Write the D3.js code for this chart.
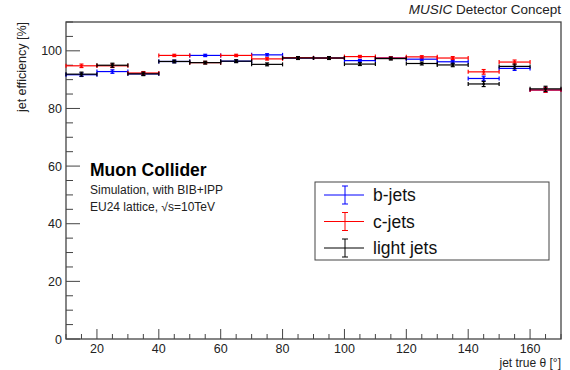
<!DOCTYPE html>
<html><head><meta charset="utf-8">
<script src="https://cdn.jsdelivr.net/npm/d3@7"></script>
<style>
body{margin:0;background:#fff;}
svg{display:block;font-family:"Liberation Sans",Arial,sans-serif;}
</style></head><body>
<svg id="c" width="570" height="370"></svg>
<script>
const binCenters = [15,25,35,45,55,65,75,85,95,105,115,125,135,145,155,165];
const binHalfWidth = 5;
const bJets = [91.7,92.8,92.0,96.3,98.4,96.4,98.6,97.5,97.5,96.6,97.5,97.1,96.2,90.4,93.9,86.4];
const cJets = [94.8,94.8,92.3,98.4,95.9,98.4,97.2,97.6,97.5,98.0,97.5,97.9,97.5,92.7,96.1,86.4];
const lightJets = [91.9,95.0,92.0,96.3,95.9,96.4,95.3,97.5,97.5,95.4,97.3,95.6,95.1,88.5,94.6,86.8];
const bErr = [0.6,0.6,0.5,0.4,0.4,0.4,0.4,0.4,0.4,0.4,0.4,0.4,0.5,0.8,0.7,0.8];
const cErr = [0.6,0.6,0.5,0.4,0.4,0.4,0.4,0.4,0.4,0.4,0.4,0.4,0.5,0.8,0.7,0.8];
const lErr = [0.7,0.7,0.6,0.5,0.5,0.5,0.5,0.5,0.5,0.5,0.5,0.5,0.6,0.9,0.8,0.9];
const xTicks = [20,40,60,80,100,120,140,160];
const yTicks = [0,20,40,60,80,100];
const seriesNames = ["b-jets","c-jets","light jets"];
const seriesColors = ["#0000ff","#ff0000","#000000"];

const svg = d3.select("#c");
const L=66, R=561, T=22, B=339;
const x = d3.scaleLinear().domain([10,170]).range([L,R]);
const y = d3.scaleLinear().domain([0,110]).range([B,T]);
const axisCol = "#444";

// frame
svg.append("rect").attr("x",L).attr("y",T).attr("width",R-L).attr("height",B-T)
  .attr("fill","none").attr("stroke",axisCol).attr("stroke-width",1.3);

// x ticks
const xMinor = d3.range(10,171,5);
const gx = svg.append("g");
xMinor.forEach(v=>{
  const major = v%20===0;
  gx.append("line").attr("x1",x(v)).attr("x2",x(v)).attr("y1",B).attr("y2",B-(major?10:5))
    .attr("stroke",axisCol).attr("stroke-width",1);
});
xTicks.forEach(v=>{
  gx.append("text").attr("x",x(v)).attr("y",B+14).attr("text-anchor","middle")
    .attr("font-size",12.5).attr("fill","#222").text(v);
});
// y ticks
const yMinor = d3.range(0,111,5);
const gy = svg.append("g");
yMinor.forEach(v=>{
  const major = v%20===0;
  gy.append("line").attr("x1",L).attr("x2",L+(major?14:7)).attr("y1",y(v)).attr("y2",y(v))
    .attr("stroke",axisCol).attr("stroke-width",1);
});
yTicks.forEach(v=>{
  gy.append("text").attr("x",L-4).attr("y",y(v)+4.5).attr("text-anchor","end")
    .attr("font-size",12.5).attr("fill","#222").text(v);
});

// axis titles
svg.append("text").attr("x",R).attr("y",367).attr("text-anchor","end").attr("font-size",12).attr("fill","#222")
  .text("jet true \u03b8 [\u00b0]");
svg.append("text").attr("transform",`translate(26,${T}) rotate(-90)`).attr("text-anchor","end")
  .attr("font-size",12.5).attr("fill","#222").text("jet efficiency [%]");

// header
const hdr = svg.append("text").attr("x",R).attr("y",14).attr("text-anchor","end").attr("font-size",13.5).attr("fill","#222");
hdr.append("tspan").attr("font-style","italic").text("MUSIC");
hdr.append("tspan").text(" Detector Concept");

// labels
svg.append("text").attr("x",90).attr("y",176).attr("font-size",17.5).attr("font-weight","bold").attr("fill","#000").text("Muon Collider");
svg.append("text").attr("x",90).attr("y",194).attr("font-size",12).attr("fill","#222").text("Simulation, with BIB+IPP");
svg.append("text").attr("x",90).attr("y",211).attr("font-size",12).attr("fill","#222").text("EU24 lattice, \u221as=10TeV");

// data
const allVals = [bJets,cJets,lightJets];
const allErr = [bErr,cErr,lErr];
allVals.forEach((vals,si)=>{
  const col = seriesColors[si];
  const g = svg.append("g").attr("stroke",col).attr("fill",col).attr("stroke-width",1.2);
  vals.forEach((v,i)=>{
    const c = binCenters[i], e = allErr[si][i];
    const x0 = x(c-binHalfWidth), x1 = x(c+binHalfWidth), yc = y(v);
    g.append("line").attr("x1",x0).attr("x2",x1).attr("y1",yc).attr("y2",yc);
    g.append("line").attr("x1",x0).attr("x2",x0).attr("y1",yc-2).attr("y2",yc+2);
    g.append("line").attr("x1",x1).attr("x2",x1).attr("y1",yc-2).attr("y2",yc+2);
    const ya = y(v+e), yb = y(v-e);
    g.append("line").attr("x1",x(c)).attr("x2",x(c)).attr("y1",ya).attr("y2",yb);
    g.append("line").attr("x1",x(c)-2).attr("x2",x(c)+2).attr("y1",ya).attr("y2",ya);
    g.append("line").attr("x1",x(c)-2).attr("x2",x(c)+2).attr("y1",yb).attr("y2",yb);
    g.append("circle").attr("cx",x(c)).attr("cy",yc).attr("r",1.4).attr("stroke","none");
  });
});

// legend
const lg = svg.append("g");
lg.append("rect").attr("x",315).attr("y",182).attr("width",234).attr("height",78)
  .attr("fill","#fff").attr("stroke",axisCol).attr("stroke-width",1);
seriesNames.forEach((n,i)=>{
  const yy = 195 + i*26.5;
  const col = seriesColors[i];
  lg.append("line").attr("x1",324).attr("x2",364).attr("y1",yy).attr("y2",yy).attr("stroke",col).attr("stroke-width",1);
  lg.append("line").attr("x1",345).attr("x2",345).attr("y1",yy-9).attr("y2",yy+9).attr("stroke",col).attr("stroke-width",1);
  lg.append("line").attr("x1",342).attr("x2",348).attr("y1",yy-9).attr("y2",yy-9).attr("stroke",col).attr("stroke-width",1);
  lg.append("line").attr("x1",342).attr("x2",348).attr("y1",yy+9).attr("y2",yy+9).attr("stroke",col).attr("stroke-width",1);
  lg.append("text").attr("x",373).attr("y",yy+6).attr("font-size",17.5).attr("fill","#111").text(n);
});
</script>
</body></html>
